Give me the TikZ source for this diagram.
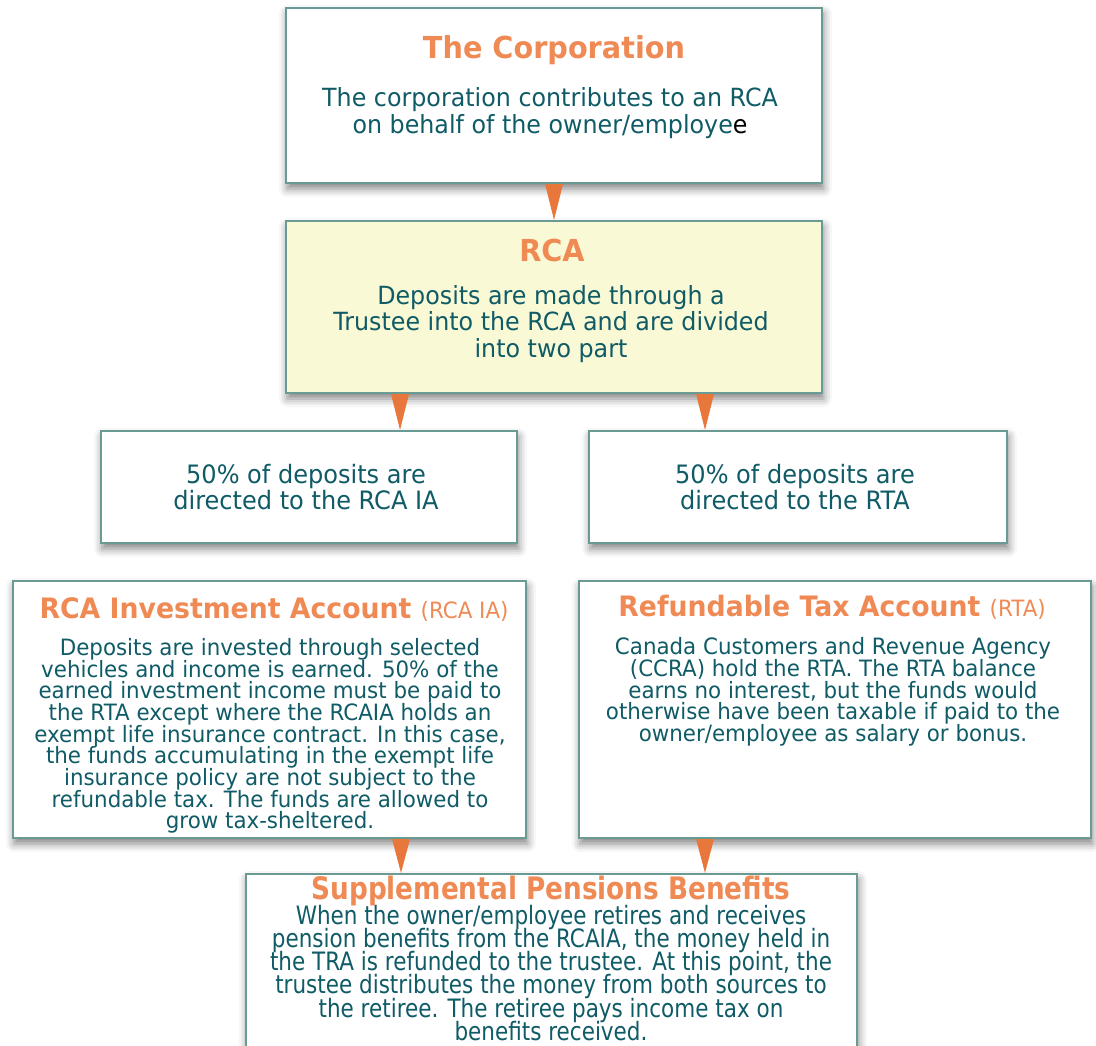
\documentclass[tikz,border=0pt]{standalone}
\usepackage{fontspec}
\setmainfont{DejaVu Sans}[FakeStretch=0.95]
\newfontfamily\narrowfont{DejaVu Sans}[FakeStretch=0.85]
\usetikzlibrary{calc,shadows.blur}

\definecolor{boxline}{HTML}{6A9A94}
\definecolor{headcol}{HTML}{F08A55}
\definecolor{bodycol}{HTML}{0F5B66}
\definecolor{tricol}{HTML}{E8773C}
\definecolor{rcafill}{HTML}{F9F9D6}

\newcommand\tightlines{\setlength\lineskiplimit{-20pt}}

\tikzset{
  flowbox/.style={draw=boxline, line width=1.4pt, fill=white, inner sep=0pt,
    blur shadow={shadow xshift=1pt, shadow yshift=-4pt, shadow blur radius=6pt, shadow opacity=50}},
  headtext/.style={text=headcol, font=\bfseries\fontsize{21.5}{24}\selectfont},
  subhead/.style={text=headcol, font=\bfseries\fontsize{20}{23}\selectfont},
  bodytext/.style={text=bodycol, align=center, font=\fontsize{17.8}{19}\selectfont},
  smalltext/.style={text=bodycol, align=center, font=\fontsize{16}{15.4}\selectfont\tightlines},
}

\begin{document}
\begin{tikzpicture}[x=0.025cm, y=-0.025cm]

\newcommand\halftri{9}
\newcommand\downtri[2]{\fill[tricol] ($(#1)+(-\halftri,0)$) -- ($(#1)+(\halftri,0)$) -- (#1 |- #2) -- cycle;}

\useasboundingbox (0,0) rectangle (1096,1045);
\clip (0,0) rectangle (1096,1045);

% boxes
\node[flowbox, minimum width=13.4cm, minimum height=4.375cm] (corp) at (554,95.5) {};
\node[flowbox, fill=rcafill, minimum width=13.4cm, minimum height=4.3cm] (rca) at (554,307) {};
\node[flowbox, minimum width=10.4cm, minimum height=2.8cm] (halfia) at (309,487) {};
\node[flowbox, minimum width=10.45cm, minimum height=2.8cm] (halfrta) at (798,487) {};
\node[flowbox, minimum width=12.825cm, minimum height=6.425cm] (rcaia) at (269.5,709.5) {};
\node[flowbox, minimum width=12.8cm, minimum height=6.425cm] (rta) at (835,709.5) {};
\node[flowbox, minimum width=15.275cm, minimum height=4.9cm] (spb) at (551.5,972) {};

% texts
\node[headtext] (corptitle) at (554,50) {The Corporation};
\node[bodytext] (corpbody) at (550,113) {The corporation contributes to an RCA\\on behalf of the owner/employe{\color{black}e}};

\node[headtext] (rcatitle) at (552,250) {RCA};
\node[bodytext] (rcabody) at (551,324) {Deposits are made through a\\Trustee into the RCA and are divided\\into two part};

\node[bodytext, font=\fontsize{18}{18.5}\selectfont] (halfiabody) at (306,487) {50\% of deposits are\\directed to the RCA IA};
\node[bodytext, font=\fontsize{18}{18.5}\selectfont] (halfrtabody) at (795,487) {50\% of deposits are\\directed to the RTA};

\node[subhead] (rcaiatitle) at (274,610)
  {RCA Investment Account {\mdseries\fontsize{16}{18}\selectfont(RCA IA)}};
\node[smalltext] (rcaiabody) at (270,736) {Deposits are invested through selected\\vehicles and income is earned. 50\% of the\\earned investment income must be paid to\\the RTA except where the RCAIA holds an\\exempt life insurance contract. In this case,\\the funds accumulating in the exempt life\\insurance policy are not subject to the\\refundable tax. The funds are allowed to\\grow tax-sheltered.};

\node[subhead] (rtatitle) at (832,607)
  {Refundable Tax Account {\mdseries\fontsize{16}{18}\selectfont(RTA)}};
\node[smalltext] (rtabody) at (833,692) {Canada Customers and Revenue Agency\\(CCRA) hold the RTA. The RTA balance\\earns no interest, but the funds would\\otherwise have been taxable if paid to the\\owner/employee as salary or bonus.};

\node[headtext, font=\narrowfont\bfseries\fontsize{22}{25}\selectfont] (spbtitle) at (551,891) {Supplemental Pensions Benefits};
\node[smalltext, font=\narrowfont\fontsize{18}{16.4}\selectfont\tightlines] (spbbody) at (551,973) {When the owner/employee retires and receives\\pension benefits from the RCAIA, the money held in\\the TRA is refunded to the trustee. At this point, the\\trustee distributes the money from both sources to\\the retiree. The retiree pays income tax on\\benefits received.};

% arrows
\coordinate (corpout) at (corp.south);
\coordinate (iaout) at ($(rca.south)+(-154,0)$);
\coordinate (rtaout) at ($(rca.south)+(151,0)$);
\coordinate (iadown) at ($(rcaia.south)+(131.5,0)$);
\coordinate (rtadown) at ($(rta.south)+(-130,0)$);

\downtri{corpout}{rca.north}
\downtri{iaout}{halfia.north}
\downtri{rtaout}{halfrta.north}
\downtri{iadown}{spb.north}
\downtri{rtadown}{spb.north}

\end{tikzpicture}
\end{document}
